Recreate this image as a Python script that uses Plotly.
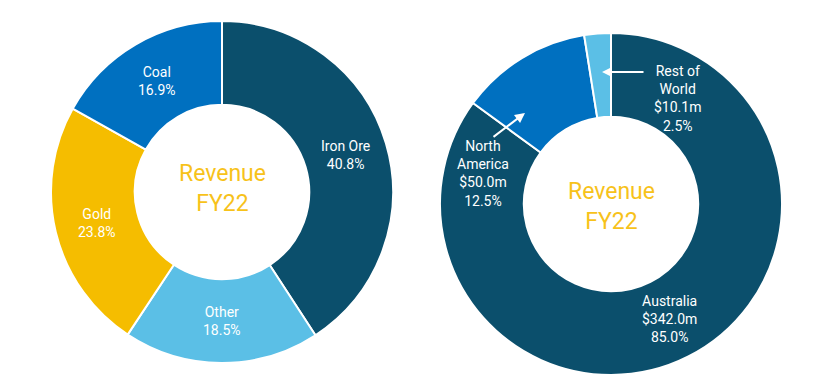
import math
import plotly.graph_objects as go

W, H = 833, 388

# Data
seg_labels = ["Iron Ore", "Other", "Gold", "Coal"]
seg_values = [40.8, 18.5, 23.8, 16.9]
seg_colors = ["#0b4f6c", "#5bbfe6", "#f5bd00", "#0070c0"]

geo_labels = ["Australia", "North America", "Rest of World"]
geo_values = [342.0, 50.0, 10.1]          # $m
geo_pct = [85.0, 12.5, 2.5]
geo_colors = ["#0b4f6c", "#0070c0", "#5bbfe6"]

center_title = "Revenue<br>FY22"

# Geometry (pixels)
L_C, L_R = (222, 192), 171
R_C, R_R = (611, 204), 171
HOLE = 0.51
FONT = "Roboto"


def dom(c, r):
    cx, cy = c
    return dict(x=[(cx - r) / W, (cx + r) / W], y=[1 - (cy + r) / H, 1 - (cy - r) / H])


def to_paper(px, py):
    return px / W, 1 - py / H


def mid_pos(values, i, c, rad):
    tot = sum(values)
    start = sum(values[:i]) / tot
    mid = (start + values[i] / tot / 2) * 2 * math.pi
    return c[0] + rad * math.sin(mid), c[1] - rad * math.cos(mid)


fig = go.Figure()
fig.add_trace(go.Pie(
    labels=seg_labels, values=seg_values, hole=HOLE, sort=False, direction="clockwise",
    rotation=0, marker=dict(colors=seg_colors, line=dict(color="white", width=2)),
    textinfo="none", domain=dom(L_C, L_R), showlegend=False, hoverinfo="label+percent"))
fig.add_trace(go.Pie(
    labels=geo_labels, values=geo_values, hole=HOLE, sort=False, direction="clockwise",
    rotation=0, marker=dict(colors=geo_colors, line=dict(color="white", width=2)),
    textinfo="none", domain=dom(R_C, R_R), showlegend=False, hoverinfo="label+value+percent"))

ann = []
base = dict(xref="paper", yref="paper", xanchor="center", yanchor="middle")
lab_font = dict(family=FONT, size=14, color="white")
mid_r = (L_R + L_R * HOLE) / 2
for i, (lab, v) in enumerate(zip(seg_labels, seg_values)):
    px, py = mid_pos(seg_values, i, L_C, mid_r)
    x, y = to_paper(px, py)
    ann.append(dict(base, x=x, y=y, showarrow=False,
                    text=f"{lab}<br>{v:.1f}%", font=lab_font))

# Australia label inside ring
px, py = mid_pos(geo_values, 0, R_C, mid_r)
x, y = to_paper(px, py)
ann.append(dict(base, x=x, y=y, showarrow=False,
                text=f"{geo_labels[0]}<br>${geo_values[0]:.1f}m<br>{geo_pct[0]:.1f}%",
                font=lab_font))

# North America label with arrow
hx, hy = to_paper(525, 113)
ann.append(dict(base, x=hx, y=hy, showarrow=True,
                ax=492 - 525, ay=138 - 113, arrowhead=2, arrowsize=1,
                arrowwidth=2, arrowcolor="white", text=""))
lx, ly = to_paper(483, 173)
ann.append(dict(base, x=lx, y=ly, showarrow=False,
                text=f"North<br>America<br>${geo_values[1]:.1f}m<br>{geo_pct[1]:.1f}%",
                font=lab_font))

# Rest of World label with arrow
hx, hy = to_paper(602, 72)
ann.append(dict(base, x=hx, y=hy, showarrow=True,
                ax=645 - 602, ay=0, arrowhead=2, arrowsize=1,
                arrowwidth=2, arrowcolor="white", text=""))
lx, ly = to_paper(677, 98)
ann.append(dict(base, x=lx, y=ly, showarrow=False,
                text=f"Rest of<br>World<br>${geo_values[2]:.1f}m<br>{geo_pct[2]:.1f}%",
                font=lab_font))

# Centre titles
for c, dyc in ((L_C, -4), (R_C, 2)):
    x, y = to_paper(c[0], c[1] + dyc)
    ann.append(dict(base, x=x, y=y, showarrow=False,
                    text=center_title, font=dict(family=FONT, size=23, color="#f7c21a")))

fig.update_layout(width=W, height=H, margin=dict(l=0, r=0, t=0, b=0),
                  paper_bgcolor="white", plot_bgcolor="white", annotations=ann)

fig.write_html("out.html", config={"displayModeBar": False},
               post_script="document.body.style.margin='0';")
